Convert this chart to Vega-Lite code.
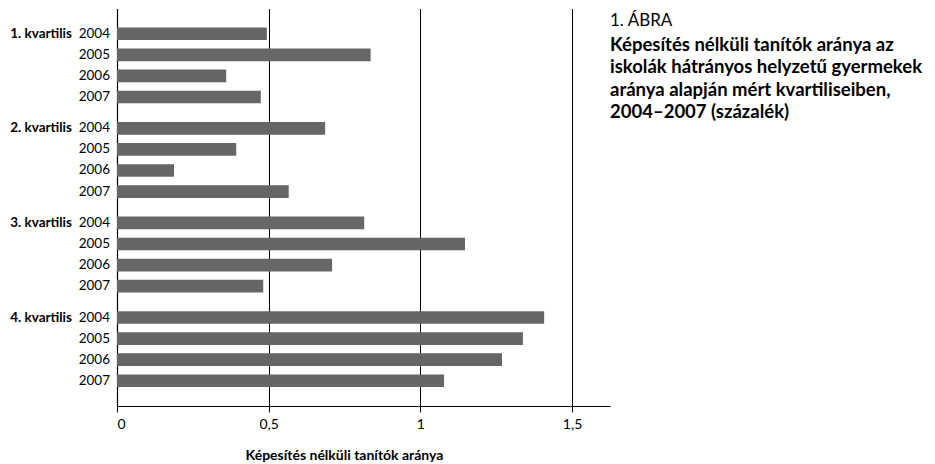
{
  "$schema": "https://vega.github.io/schema/vega-lite/v6.json",
  "width": 493,
  "height": 397.5,
  "autosize": {"type": "none"},
  "padding": {"left": 117, "top": 8.5, "right": 325, "bottom": 58},
  "title": {
    "text": "1. ÁBRA",
    "subtitle": ["Képesítés nélküli tanítók aránya az", "iskolák hátrányos helyzetű gyermekek", "aránya alapján mért kvartiliseiben,", "2004–2007 (százalék)"],
    "orient": "top",
    "anchor": "start",
    "frame": "group",
    "dx": 493,
    "offset": -114,
    "font": "Lato",
    "fontSize": 17,
    "fontWeight": "normal",
    "color": "#000000",
    "subtitleFont": "Lato",
    "subtitleFontSize": 18.5,
    "subtitleFontWeight": "bold",
    "subtitleColor": "#000000",
    "subtitleLineHeight": 22.5,
    "subtitlePadding": 6
  },
  "data": {
    "values": [
      {"kvartilis": "1. kvartilis", "year": "2004", "value": 0.494},
      {"kvartilis": "1. kvartilis", "year": "2005", "value": 0.836},
      {"kvartilis": "1. kvartilis", "year": "2006", "value": 0.360},
      {"kvartilis": "1. kvartilis", "year": "2007", "value": 0.474},
      {"kvartilis": "2. kvartilis", "year": "2004", "value": 0.686},
      {"kvartilis": "2. kvartilis", "year": "2005", "value": 0.393},
      {"kvartilis": "2. kvartilis", "year": "2006", "value": 0.188},
      {"kvartilis": "2. kvartilis", "year": "2007", "value": 0.566},
      {"kvartilis": "3. kvartilis", "year": "2004", "value": 0.815},
      {"kvartilis": "3. kvartilis", "year": "2005", "value": 1.147},
      {"kvartilis": "3. kvartilis", "year": "2006", "value": 0.709},
      {"kvartilis": "3. kvartilis", "year": "2007", "value": 0.482},
      {"kvartilis": "4. kvartilis", "year": "2004", "value": 1.408},
      {"kvartilis": "4. kvartilis", "year": "2005", "value": 1.338},
      {"kvartilis": "4. kvartilis", "year": "2006", "value": 1.269},
      {"kvartilis": "4. kvartilis", "year": "2007", "value": 1.078}
    ]
  },
  "encoding": {
    "y": {
      "field": "kvartilis",
      "type": "nominal",
      "sort": ["1. kvartilis", "2. kvartilis", "3. kvartilis", "4. kvartilis"],
      "scale": {"paddingInner": 0.108, "paddingOuter": 0.155},
      "axis": {"labels": false, "ticks": false, "title": null, "domainColor": "#000000", "domainWidth": 1.2, "grid": false}
    },
    "yOffset": {
      "field": "year",
      "type": "nominal",
      "sort": ["2004", "2005", "2006", "2007"],
      "scale": {"paddingInner": 0.4, "paddingOuter": 0.2}
    }
  },
  "layer": [
    {
      "mark": {"type": "bar", "color": "#666666"},
      "encoding": {
        "x": {
          "field": "value",
          "type": "quantitative",
          "scale": {"domain": [0, 1.625], "nice": false, "zero": true},
          "axis": {
            "values": [0, 0.5, 1, 1.5],
            "format": "~g",
            "labelExpr": "replace(datum.label, '.', ',')",
            "grid": true,
            "gridColor": "#000000",
            "gridOpacity": 1,
            "gridWidth": 1,
            "domainColor": "#000000",
            "domainWidth": 1,
            "tickColor": "#000000",
            "tickSize": 6,
            "labelPadding": 5,
            "labelFontSize": 14,
            "labelColor": "#000000",
            "title": "Képesítés nélküli tanítók aránya",
            "titleFontSize": 14,
            "titleFontWeight": "bold",
            "titleColor": "#000000",
            "titleX": 227,
            "titleY": 53,
            "titleAlign": "center",
            "titleBaseline": "alphabetic"
          }
        }
      }
    },
    {
      "mark": {"type": "text", "align": "right", "baseline": "middle", "dx": -7, "fontSize": 13.5, "color": "#000000"},
      "encoding": {
        "x": {"datum": 0},
        "text": {"field": "year"}
      }
    },
    {
      "transform": [{"filter": "datum.year === '2004'"}],
      "mark": {"type": "text", "align": "right", "baseline": "middle", "dx": -45, "fontSize": 13.5, "fontWeight": "bold", "color": "#000000"},
      "encoding": {
        "x": {"datum": 0},
        "text": {"field": "kvartilis"}
      }
    }
  ],
  "config": {
    "font": "Lato",
    "view": {"stroke": null},
    "axis": {"labelFont": "Lato", "titleFont": "Lato"}
  }
}
